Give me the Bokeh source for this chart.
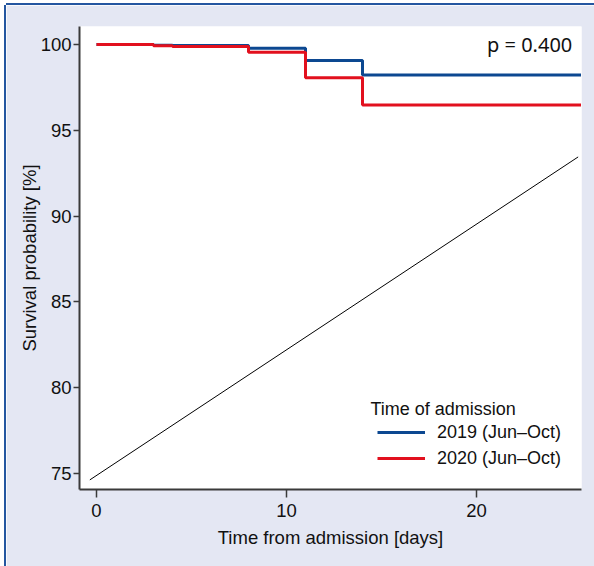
from bokeh.plotting import figure
from bokeh.models import Range1d, Label, Legend, LegendItem, FixedTicker
from bokeh.embed import file_html
from bokeh.resources import INLINE

# ---- data ----
days_2019 = [0, 3, 4, 8, 11, 14, 25.5]
surv_2019 = [100, 99.96, 99.94, 99.78, 99.07, 98.22, 98.22]
days_2020 = [0, 3, 4, 8, 11, 14, 25.5]
surv_2020 = [100, 99.93, 99.88, 99.55, 98.06, 96.47, 96.47]
diag_x = [-0.35, 25.35]
diag_y = [74.63, 93.45]
x_ticks = [0, 10, 20]
y_ticks = [75, 80, 85, 90, 95, 100]
series_labels = ["2019 (Jun\u2013Oct)", "2020 (Jun\u2013Oct)"]
legend_title = "Time of admission"
p_text = "p = 0.400"

FONT = "Liberation Sans"
FS = "18.5px"
BLUE = "#0c4891"
RED = "#e2101e"
BG = "#e4e7f3"
BORDER = "#2456a0"

p = figure(width=588, height=561, output_backend="svg", toolbar_location=None,
           x_range=Range1d(-0.895, 25.526), y_range=Range1d(74.07, 101.05),
           min_border_left=73, min_border_top=21, min_border_right=13, min_border_bottom=77,
           frame_width=502, frame_height=463)
p.border_fill_color = BG
p.background_fill_color = "white"
p.outline_line_color = None
p.grid.visible = False
p.styles = {"margin-left": "6px", "margin-top": "5px",
            "box-shadow": "-2px 0 0 0 %s, 0 -2px 0 0 %s, 0 2px 0 0 %s" % (BORDER, BORDER, BORDER)}

for ax in (p.xaxis[0], p.yaxis[0]):
    ax.axis_line_color = "#3a3a3a"
    ax.axis_line_width = 2
    ax.major_tick_line_color = "#3a3a3a"
    ax.major_tick_line_width = 1.5
    ax.major_tick_in = 0
    ax.minor_tick_line_color = None
    ax.major_label_text_font = FONT
    ax.major_label_text_font_size = FS
    ax.major_label_text_color = "#111111"
    ax.axis_label_text_font = FONT
    ax.axis_label_text_font_size = FS
    ax.axis_label_text_font_style = "normal"
    ax.axis_label_text_color = "#111111"

p.xaxis.ticker = FixedTicker(ticks=x_ticks)
p.yaxis.ticker = FixedTicker(ticks=y_ticks)
p.xaxis.major_tick_out = 8
p.yaxis.major_tick_out = 6
p.xaxis.major_label_standoff = 6
p.yaxis.major_label_standoff = 2
p.xaxis.axis_label = "Time from admission [days]"
p.yaxis.axis_label = "Survival probability [%]"
p.xaxis.axis_label_standoff = 7
p.yaxis.axis_label_standoff = -2

p.line(diag_x, diag_y, line_color="black", line_width=1)
r19 = p.step(days_2019, surv_2019, mode="after", line_color=BLUE, line_width=3)
r20 = p.step(days_2020, surv_2020, mode="after", line_color=RED, line_width=3)

legend = Legend(items=[LegendItem(label=series_labels[0], renderers=[r19]),
                       LegendItem(label=series_labels[1], renderers=[r20])],
                location=(298, 19))
legend.padding = 0
legend.margin = 0
legend.spacing = 2
legend.glyph_width = 48
legend.glyph_height = 24
legend.label_height = 24
legend.label_standoff = 12
legend.label_text_font = FONT
legend.label_text_font_size = "18px"
legend.label_text_color = "#111111"
legend.border_line_color = None
legend.background_fill_alpha = 0
p.add_layout(legend)

p.add_layout(Label(x=14.42, y=78.79, text=legend_title, text_font=FONT,
                   text_font_size="18px", text_color="#111111", text_baseline="middle"))
p.add_layout(Label(x=25.04, y=100.03, text=p_text, text_font="Noto Sans",
                   text_font_size="20px", text_color="#111111", text_align="right",
                   text_baseline="middle"))

open("out.html", "w").write(file_html(p, INLINE))
